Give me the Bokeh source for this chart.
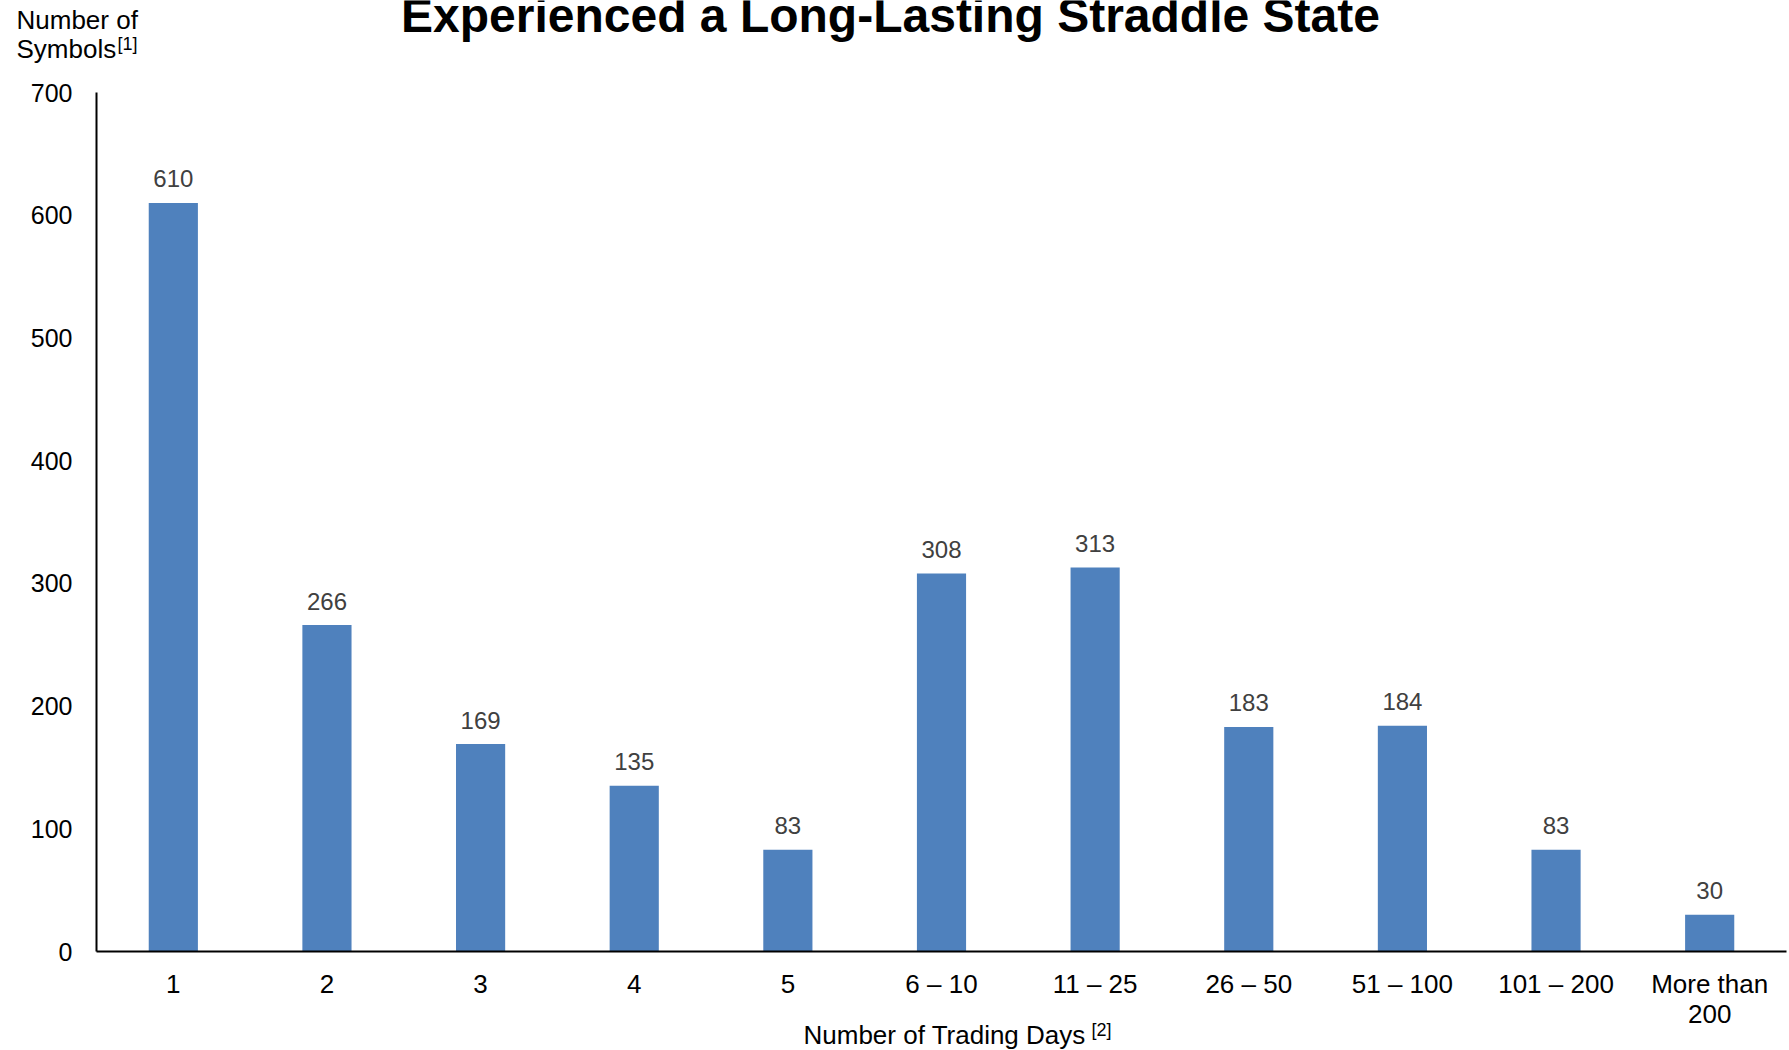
from bokeh.plotting import figure
from bokeh.models import Range1d, FixedTicker, Label, ColumnDataSource, LinearAxis
from bokeh.embed import file_html
from bokeh.resources import INLINE
from bokeh.core.properties import value

categories = ["1", "2", "3", "4", "5", "6 \u2013 10", "11 \u2013 25", "26 \u2013 50",
              "51 \u2013 100", "101 \u2013 200", "More than\n200"]
counts = [610, 266, 169, 135, 83, 308, 313, 183, 184, 83, 30]
y_ticks = [0, 100, 200, 300, 400, 500, 600, 700]

title_text = "Experienced a Long-Lasting Straddle State"
y_label_lines = ["Number of", "Symbols"]
y_label_sup = "[1]"
x_label = "Number of Trading Days"
x_label_sup = "[2]"

FONT = "Liberation Sans"
BAR = "#4F81BD"

# category slots on a numeric scale: slot i is centred at i + 0.5
slot = [i + 0.5 for i in range(len(categories))]
src = ColumnDataSource(dict(x=slot, n=counts, lab=[str(c) for c in counts]))

W, H = 1789, 1050
# frame = whole canvas; data x 0..11 -> px 96..1786, y 0..700 -> px 951..92 (from top)
px_per_x = (1786 - 96) / len(categories)
px_per_y = (951 - 92) / 700
x_range = Range1d((0 - 96) / px_per_x, len(categories) + (W - 1786) / px_per_x)
y_range = Range1d(-(H - 951) / px_per_y, 700 + 92 / px_per_y)

p = figure(width=W, height=H, x_range=x_range, y_range=y_range, output_backend="svg",
           toolbar_location=None, x_axis_location=None, y_axis_location=None,
           min_border=0, min_border_left=0, min_border_right=0, min_border_top=0, min_border_bottom=0)
p.outline_line_color = None
p.grid.visible = False
p.background_fill_color = "white"
p.border_fill_color = "white"

p.vbar(x="x", top="n", width=0.32, source=src, fill_color=BAR, line_color=None)
p.text(x="x", y="n", text="lab", source=src, text_align="center", text_baseline="alphabetic",
       y_offset=-24, text_font=value(FONT), text_font_size="24px", text_color="#404040")

xaxis = LinearAxis(fixed_location=0, bounds=(0, len(categories)),
                   ticker=FixedTicker(ticks=slot),
                   major_label_overrides={s: c for s, c in zip(slot, categories)})
yaxis = LinearAxis(fixed_location=0, bounds=(0, 700), ticker=FixedTicker(ticks=y_ticks))
for ax in (xaxis, yaxis):
    ax.axis_line_color = "black"
    ax.axis_line_width = 2
    ax.major_tick_line_color = None
    ax.minor_tick_line_color = None
    ax.major_tick_out = 0
    ax.major_tick_in = 0
    ax.major_label_text_font = FONT
    ax.major_label_text_color = "black"
yaxis.major_label_text_font_size = "25px"
yaxis.major_label_standoff = 24
xaxis.major_label_text_font_size = "26px"
xaxis.major_label_text_line_height = 1.0
xaxis.major_label_standoff = 17
p.add_layout(xaxis, "below")
p.add_layout(yaxis, "left")

# texts around the axes, placed in canvas pixels (origin at bottom-left)
def lab(text, px, py, size, align="left", bold=False, color="black"):
    p.add_layout(Label(x=px, y=H - py, x_units="screen", y_units="screen", text=text,
                       text_font=FONT, text_font_size=size, text_align=align,
                       text_baseline="alphabetic", text_color=color,
                       text_font_style="bold" if bold else "normal"))

lab(title_text, 890, 15, "48px", align="center", bold=True)
lab(y_label_lines[0], 16, 19, "26px")
lab(y_label_lines[1], 16, 48, "26px")
lab(y_label_sup, 117, 43, "18px")
lab(x_label, 803, 1034, "26px")
lab(x_label_sup, 1091, 1029, "18px")

open("out.html", "w").write(file_html(p, INLINE))
